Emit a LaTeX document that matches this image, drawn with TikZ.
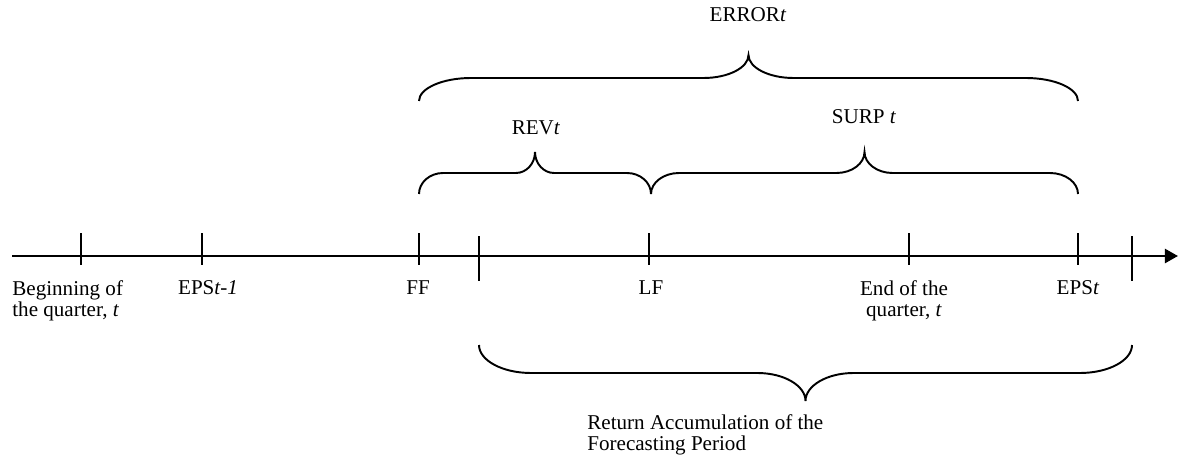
\documentclass[tikz,border=0pt]{standalone}
\usepackage{fontspec}
\setmainfont{Liberation Serif}
\usepackage{tikz}
\usetikzlibrary{arrows.meta}

% 花括号: 左x, 右x, 端点y, 深度, 端弧长, 尖弧长
\newcommand{\wbrace}[6]{%
  \pgfmathsetmacro{\xm}{(#1+#2)/2}
  \pgfmathsetmacro{\yh}{#3-(#4)}
  \pgfmathsetmacro{\yt}{#3-2*(#4)}
  \draw[brace] (#1,#3) .. controls (#1,{#3-0.55*(#4)}) and ({#1+0.45*#5},\yh) .. ({#1+#5},\yh)
    -- ({\xm-#6},\yh) .. controls ({\xm-0.45*#6},\yh) and (\xm,{\yt+0.55*(#4)}) .. (\xm,\yt)
    .. controls (\xm,{\yt+0.55*(#4)}) and ({\xm+0.45*#6},\yh) .. ({\xm+#6},\yh)
    -- ({#2-#5},\yh) .. controls ({#2-0.45*#5},\yh) and (#2,{#3-0.55*(#4)}) .. (#2,#3);
}

\begin{document}
\begin{tikzpicture}[x=0.02cm, y=-0.02cm,
    axis/.style = {line width=1.5pt, -{Triangle[length=7.5pt, width=8pt]}},
    tick/.style = {line width=1.1pt},
    brace/.style = {line width=1.1pt},
    lab/.style = {inner sep=0pt, font=\fontsize{12}{12}\selectfont}]
    \useasboundingbox (0,0) rectangle (1179,459);

    % 时间轴
    \coordinate (a0) at (12,256);
    \coordinate (a1) at (1178,256);
    \draw[axis] (a0) -- (a1);

    % 刻度
    \foreach \x in {81,202,419,649,909,1078}
        \draw[tick] (\x,233) -- (\x,265);
    \foreach \x in {479,1132}
        \draw[tick] (\x,236) -- (\x,281);

    % 轴下标签
    \node[lab, anchor=north west, align=left] (beg) at (12,280) {Beginning of\\the quarter, \textit{t}};
    \node[lab, anchor=base] (eps1) at (208,294) {EPS\textit{t-1}};
    \node[lab, anchor=base] (ff) at (418,294) {FF};
    \node[lab, anchor=base] (lf) at (651,294) {LF};
    \node[lab, anchor=north, align=center] (endq) at (904,280) {End of the\\quarter, \textit{t}};
    \node[lab, anchor=base] (epst) at (1078,294) {EPS\textit{t}};

    % 括号标签
    \node[lab, anchor=base] (err) at (748,22) {ERROR\textit{t}};
    \node[lab, anchor=base] (rev) at (536,135) {REV\textit{t}};
    \node[lab, anchor=base] (surp) at (864,124) {SURP \textit{t}};
    \node[lab, anchor=north west, align=left] (ret) at (587,414) {Return Accumulation of the\\Forecasting Period};

    % 括号
    \wbrace{419}{1078}{101}{23}{52}{45}
    \wbrace{419}{651}{194}{21}{24}{19}
    \wbrace{651}{1078}{194}{21}{28}{28}
    \wbrace{479}{1132}{345}{-28}{52}{48}
\end{tikzpicture}
\end{document}
